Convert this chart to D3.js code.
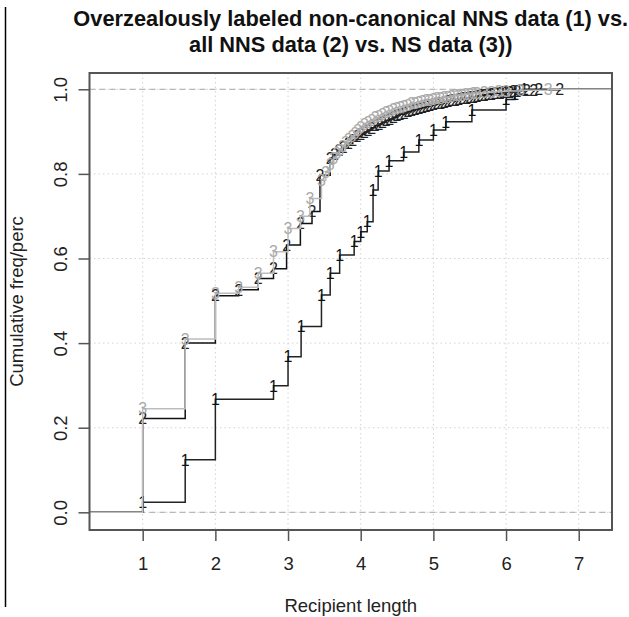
<!DOCTYPE html>
<html>
<head>
<meta charset="utf-8">
<script src="https://cdn.jsdelivr.net/npm/d3@7"></script>
<style>
  body { margin: 0; background: #fff; }
  svg { display: block; font-family: "Liberation Sans", Arial, sans-serif; }
</style>
</head>
<body>
<div id="container"></div>
<script>
// data: jump points of each ecdf
let nonCanonX = [1.0, 1.585, 2.0, 2.8, 3.0, 3.18, 3.46, 3.58, 3.71, 3.91, 4.0, 4.09, 4.17, 4.24, 4.39, 4.59, 4.8, 5.0, 5.17, 5.53, 6.0, 6.12, 6.25];
let nonCanonY = [0.024, 0.124, 0.267, 0.299, 0.368, 0.439, 0.514, 0.565, 0.608, 0.640, 0.663, 0.687, 0.762, 0.807, 0.831, 0.852, 0.880, 0.904, 0.923, 0.951, 0.976, 0.988, 1.0];

let nnsX = [1.0, 1.585, 2.0, 2.32, 2.59, 2.8, 2.98, 3.17, 3.33, 3.44, 3.58, 3.64, 3.7, 3.76, 3.83, 3.89, 3.95, 4.0, 4.05, 4.1, 4.15, 4.2, 4.25, 4.3, 4.35, 4.4, 4.45, 4.5, 4.54, 4.6, 4.65, 4.7, 4.75, 4.8, 4.85, 4.9, 4.95, 5.0, 5.05, 5.1, 5.15, 5.2, 5.25, 5.3, 5.35, 5.4, 5.46, 5.5, 5.55, 5.6, 5.65, 5.7, 5.75, 5.8, 5.85, 5.92, 5.96, 6.0, 6.05, 6.1, 6.15, 6.2, 6.28, 6.38, 6.45, 6.74];
let nnsY = [0.222, 0.400, 0.512, 0.526, 0.553, 0.576, 0.632, 0.683, 0.711, 0.797, 0.837, 0.846, 0.855, 0.863, 0.872, 0.880, 0.888, 0.894, 0.899, 0.904, 0.909, 0.914, 0.918, 0.922, 0.926, 0.930, 0.934, 0.938, 0.941, 0.944, 0.947, 0.950, 0.952, 0.955, 0.957, 0.960, 0.962, 0.964, 0.966, 0.968, 0.970, 0.972, 0.973, 0.975, 0.976, 0.978, 0.979, 0.981, 0.982, 0.984, 0.985, 0.987, 0.988, 0.989, 0.990, 0.991, 0.992, 0.993, 0.994, 0.995, 0.996, 0.997, 0.998, 0.998, 0.999, 1.0];

let nsX = [1.0, 1.585, 2.0, 2.32, 2.59, 2.8, 3.0, 3.17, 3.3, 3.46, 3.52, 3.58, 3.63, 3.67, 3.71, 3.75, 3.79, 3.83, 3.88, 3.92, 3.96, 4.0, 4.05, 4.1, 4.15, 4.2, 4.25, 4.3, 4.35, 4.4, 4.45, 4.5, 4.55, 4.6, 4.65, 4.7, 4.75, 4.8, 4.85, 4.9, 4.95, 5.0, 5.05, 5.1, 5.15, 5.2, 5.25, 5.3, 5.35, 5.4, 5.45, 5.5, 5.55, 5.6, 5.7, 5.8, 5.9, 6.0, 6.2, 6.58];
let nsY = [0.245, 0.410, 0.518, 0.532, 0.565, 0.616, 0.671, 0.700, 0.742, 0.785, 0.805, 0.823, 0.837, 0.848, 0.857, 0.866, 0.874, 0.882, 0.890, 0.897, 0.904, 0.911, 0.917, 0.923, 0.928, 0.933, 0.937, 0.941, 0.945, 0.949, 0.952, 0.955, 0.958, 0.961, 0.963, 0.966, 0.968, 0.970, 0.972, 0.974, 0.975, 0.977, 0.978, 0.980, 0.981, 0.982, 0.984, 0.985, 0.986, 0.987, 0.988, 0.989, 0.990, 0.991, 0.993, 0.994, 0.995, 0.996, 0.998, 1.0];

let xTicks = [1, 2, 3, 4, 5, 6, 7];
let yTicks = [0, 0.2, 0.4, 0.6, 0.8, 1.0];

const w = 629;
const h = 617;
const padL = 89.5, padR = 612, padT = 73, padB = 530;

let viz = d3.select("#container")
  .append("svg")
    .attr("width", w)
    .attr("height", h)
;

let xScale = d3.scaleLinear().domain([0.268, 7.458]).range([padL, padR]);
let yScale = d3.scaleLinear().domain([-0.0418, 1.0385]).range([padB, padT]);

// stray border line on the left of the picture
viz.append("line")
  .attr("x1", 5.5).attr("x2", 5.5).attr("y1", 7).attr("y2", 607)
  .attr("stroke", "#000").attr("stroke-width", 1.5);

// grid
viz.selectAll(".vgrid").data(xTicks).enter().append("line")
  .attr("x1", d => xScale(d)).attr("x2", d => xScale(d))
  .attr("y1", padT).attr("y2", padB)
  .attr("stroke", "#d3d3d3").attr("stroke-dasharray", "1.5,3");
viz.selectAll(".hgrid").data(yTicks).enter().append("line")
  .attr("x1", padL).attr("x2", padR)
  .attr("y1", d => yScale(d)).attr("y2", d => yScale(d))
  .attr("stroke", "#d3d3d3").attr("stroke-dasharray", "1.5,3");

// dashed lines at 0 and 1
viz.selectAll(".hline").data([0, 1]).enter().append("line")
  .attr("x1", padL).attr("x2", padR)
  .attr("y1", d => yScale(d)).attr("y2", d => yScale(d))
  .attr("stroke", "#b8b8b8").attr("stroke-width", 1.3).attr("stroke-dasharray", "6,4");

let lineMaker = d3.line()
  .x(d => xScale(d[0]))
  .y(d => yScale(d[1]))
  .curve(d3.curveStepAfter);

function drawEcdf(xs, ys, lineCol, textCol, label) {
  let pts = xs.map((x, i) => [x, ys[i]]);
  let full = [[xScale.domain()[0], 0]].concat(pts, [[xScale.domain()[1], ys[ys.length - 1]]]);
  viz.append("path")
    .datum(full)
    .attr("d", lineMaker)
    .attr("fill", "none")
    .attr("stroke", lineCol)
    .attr("stroke-width", 1.5);
  viz.selectAll(".pt" + label).data(pts).enter().append("text")
    .attr("x", d => xScale(d[0]))
    .attr("y", d => yScale(d[1]))
    .attr("dy", "0.36em")
    .attr("text-anchor", "middle")
    .attr("font-size", 16)
    .attr("fill", textCol)
    .text(label);
}

drawEcdf(nonCanonX, nonCanonY, "#222", "#111", "1");
drawEcdf(nnsX, nnsY, "#111", "#222", "2");
drawEcdf(nsX, nsY, "#bdbdbd", "#aaaaaa", "3");

// box
viz.append("rect")
  .attr("x", padL).attr("y", padT)
  .attr("width", padR - padL).attr("height", padB - padT)
  .attr("fill", "none").attr("stroke", "#555").attr("stroke-width", 2);

// axes
let xAxis = viz.append("g")
  .attr("transform", "translate(0," + padB + ")")
  .call(d3.axisBottom(xScale).tickValues(xTicks).tickSize(11).tickPadding(16).tickFormat(d3.format("d")));
let yAxis = viz.append("g")
  .attr("transform", "translate(" + padL + ",0)")
  .call(d3.axisLeft(yScale).tickValues(yTicks).tickSize(11).tickFormat(d3.format(".1f")));
xAxis.select(".domain").remove();
yAxis.select(".domain").remove();
viz.selectAll(".tick line").attr("stroke", "#555").attr("stroke-width", 1.5);
xAxis.selectAll("text").attr("font-size", 18.5).attr("fill", "#222").attr("font-family", "Liberation Sans, Arial, sans-serif");
yAxis.selectAll("text")
  .attr("font-size", 18.5).attr("fill", "#222").attr("font-family", "Liberation Sans, Arial, sans-serif")
  .attr("text-anchor", "middle")
  .attr("x", 0)
  .attr("transform", "translate(-29,0) rotate(-90)")
  .attr("dy", "0.35em");

// labels
viz.append("text")
  .attr("x", (padL + padR) / 2).attr("y", 612)
  .attr("text-anchor", "middle").attr("font-size", 18.5).attr("fill", "#222")
  .text("Recipient length");
viz.append("text")
  .attr("transform", "translate(23," + ((padT + padB) / 2) + ") rotate(-90)")
  .attr("text-anchor", "middle").attr("font-size", 18.5).attr("fill", "#222")
  .text("Cumulative freq/perc");

let title = ["Overzealously labeled non-canonical NNS data (1) vs.", "all NNS data (2) vs. NS data (3))"];
viz.selectAll(".title").data(title).enter().append("text")
  .attr("x", (padL + padR) / 2)
  .attr("y", (d, i) => 26 + i * 25.5)
  .attr("text-anchor", "middle")
  .attr("font-size", 21.8)
  .attr("font-weight", "bold")
  .attr("fill", "#111")
  .text(d => d);
</script>
</body>
</html>
